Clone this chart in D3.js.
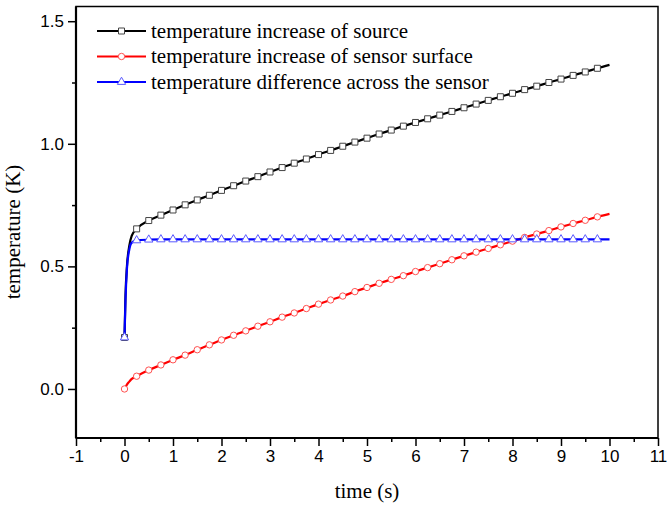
<!DOCTYPE html>
<html>
<head>
<meta charset="utf-8">
<script src="https://cdn.jsdelivr.net/npm/d3@7"></script>
<style>
  html, body { margin: 0; padding: 0; background: #fff; }
  svg { display: block; }
  .tick text { font-family: "Liberation Sans", Arial, sans-serif; font-size: 17px; fill: #000; }
  .lbl { font-family: "Liberation Serif", "Times New Roman", serif; font-size: 21px; fill: #000; }
</style>
</head>
<body>
<svg id="chart" width="667" height="509"></svg>
<script>
// time steps (s) where markers are drawn; the line runs to 10 s
const TIME = [0, 0.25, 0.5, 0.75, 1, 1.25, 1.5, 1.75, 2, 2.25, 2.5, 2.75, 3, 3.25, 3.5, 3.75,
  4, 4.25, 4.5, 4.75, 5, 5.25, 5.5, 5.75, 6, 6.25, 6.5, 6.75, 7, 7.25, 7.5, 7.75,
  8, 8.25, 8.5, 8.75, 9, 9.25, 9.5, 9.75, 10];

const SOURCE = [0.21, 0.653, 0.687, 0.709, 0.730, 0.751, 0.771, 0.790, 0.810, 0.829, 0.848, 0.866,
  0.885, 0.903, 0.921, 0.938, 0.956, 0.973, 0.990, 1.007, 1.023, 1.040, 1.056, 1.072,
  1.087, 1.102, 1.117, 1.132, 1.147, 1.162, 1.177, 1.192, 1.206, 1.221, 1.235, 1.250,
  1.264, 1.279, 1.293, 1.308, 1.322];

const SURFACE = [0.0, 0.052, 0.077, 0.098, 0.119, 0.138, 0.160, 0.180, 0.200, 0.219, 0.237, 0.256,
  0.274, 0.293, 0.310, 0.328, 0.346, 0.363, 0.379, 0.397, 0.414, 0.431, 0.447, 0.462,
  0.479, 0.495, 0.511, 0.527, 0.543, 0.558, 0.573, 0.588, 0.603, 0.618, 0.632, 0.646,
  0.661, 0.675, 0.688, 0.702, 0.714];

const DIFFERENCE = [0.21, 0.606, 0.609, 0.610, 0.610, 0.610, 0.610, 0.610, 0.610, 0.610, 0.610, 0.610,
  0.610, 0.610, 0.610, 0.610, 0.610, 0.610, 0.610, 0.610, 0.610, 0.610, 0.610, 0.610,
  0.610, 0.610, 0.610, 0.610, 0.610, 0.610, 0.610, 0.610, 0.610, 0.610, 0.610, 0.610,
  0.610, 0.610, 0.610, 0.610, 0.610];

// extra line-only samples in the steep start (0 < t < 0.25)
const EARLY_TIME = [0.02, 0.05, 0.1, 0.15];
const EARLY_SOURCE = [0.38, 0.50, 0.585, 0.625];
const EARLY_SURFACE = [0.008, 0.018, 0.03, 0.041];
const EARLY_DIFFERENCE = [0.36, 0.49, 0.57, 0.597];

const X_TICKS = [-1, 0, 1, 2, 3, 4, 5, 6, 7, 8, 9, 10, 11];
const Y_TICKS = [0.0, 0.5, 1.0, 1.5];

const SERIES = [
  { label: "temperature increase of source", vals: SOURCE, early: EARLY_SOURCE, color: "#000", mark: "square", markStroke: "#444" },
  { label: "temperature increase of sensor surface", vals: SURFACE, early: EARLY_SURFACE, color: "#ff0000", mark: "circle", markStroke: "#ff5050" },
  { label: "temperature difference across the sensor", vals: DIFFERENCE, early: EARLY_DIFFERENCE, color: "#0000ff", mark: "triangle", markStroke: "#5a5aff" }
];

const M = { top: 6.5, right: 9, bottom: 71, left: 76 };
const W = 667, H = 509;
const iw = W - M.left - M.right, ih = H - M.top - M.bottom;

const svg = d3.select("#chart");
const g = svg.append("g").attr("transform", `translate(${M.left},${M.top})`);

const x = d3.scaleLinear([-1, 11], [0, iw]);
const y = d3.scaleLinear([-0.2, 1.56], [ih, 0]);

// minor ticks
const xMinor = X_TICKS.slice(0, -1).map(d => d + 0.5);
const yMinor = [-0.25, 0.25, 0.75, 1.25].filter(d => d >= -0.2);

g.append("g").attr("transform", `translate(0,${ih})`)
  .call(d3.axisBottom(x).tickValues(xMinor).tickSize(4).tickFormat(""))
  .call(a => a.select(".domain").remove())
  .selectAll("line").attr("stroke-width", 1.5);
g.append("g")
  .call(d3.axisLeft(y).tickValues(yMinor).tickSize(4).tickFormat(""))
  .call(a => a.select(".domain").remove())
  .selectAll("line").attr("stroke-width", 1.5);

// hyphen minus like the original, not the unicode minus
const xAxis = g.append("g").attr("transform", `translate(0,${ih})`)
  .call(d3.axisBottom(x).tickValues(X_TICKS).tickSize(8).tickPadding(4).tickFormat(d => String(d)));
xAxis.select(".domain").remove();
xAxis.selectAll("line").attr("stroke-width", 1.5);

const yAxis = g.append("g")
  .call(d3.axisLeft(y).tickValues(Y_TICKS).tickSize(8).tickPadding(4).tickFormat(d => d.toFixed(1)));
yAxis.select(".domain").remove();
yAxis.selectAll("line").attr("stroke-width", 1.5);

// frame
g.append("rect").attr("width", iw).attr("height", ih)
  .attr("fill", "none").attr("stroke", "#000").attr("stroke-width", 1.5);
g.append("line").attr("x1", 0).attr("x2", iw).attr("y1", ih).attr("y2", ih)
  .attr("stroke", "#000").attr("stroke-width", 2.2);
g.append("line").attr("x1", 0).attr("x2", 0).attr("y1", 0).attr("y2", ih)
  .attr("stroke", "#000").attr("stroke-width", 2.2);

const line = d3.line().x(p => x(p.t)).y(p => y(p.v)).curve(d3.curveMonotoneX);

function symbolPath(kind) {
  if (kind === "square") return d3.symbol(d3.symbolSquare, 36)();
  if (kind === "circle") return d3.symbol(d3.symbolCircle, 32)();
  return d3.symbol(d3.symbolTriangle, 30)();
}

SERIES.forEach(s => {
  const pts = TIME.map((t, i) => ({ t, v: s.vals[i] }));
  const early = EARLY_TIME.map((t, i) => ({ t, v: s.early[i] }));
  const all = [pts[0], ...early, ...pts.slice(1)];
  g.append("path").attr("d", line(all))
    .attr("fill", "none").attr("stroke", s.color).attr("stroke-width", 2.2);
});

SERIES.forEach(s => {
  const pts = TIME.slice(0, -1).map((t, i) => ({ t, v: s.vals[i] }));
  g.append("g").selectAll("path").data(pts).join("path")
    .attr("d", symbolPath(s.mark))
    .attr("transform", p => `translate(${x(p.t)},${y(p.v)})`)
    .attr("fill", "#fff").attr("stroke", s.markStroke).attr("stroke-width", 1);
});

// legend
const lg = svg.append("g").attr("transform", "translate(97,31)");
SERIES.forEach((s, i) => {
  const row = lg.append("g").attr("transform", `translate(0,${i * 25.5})`);
  row.append("line").attr("x1", 0).attr("x2", 49).attr("stroke", s.color).attr("stroke-width", 2.2);
  row.append("path").attr("d", symbolPath(s.mark)).attr("transform", "translate(24.5,0)")
    .attr("fill", "#fff").attr("stroke", s.markStroke).attr("stroke-width", 1);
  row.append("text").attr("class", "lbl").attr("x", 54).attr("dy", "0.33em").text(s.label);
});

// axis titles
svg.append("text").attr("class", "lbl").attr("text-anchor", "middle")
  .attr("x", M.left + x(5)).attr("y", 498).text("time (s)");
svg.append("text").attr("class", "lbl").attr("text-anchor", "middle")
  .attr("transform", `translate(20,232) rotate(-90)`).text("temperature (K)");
</script>
</body>
</html>
